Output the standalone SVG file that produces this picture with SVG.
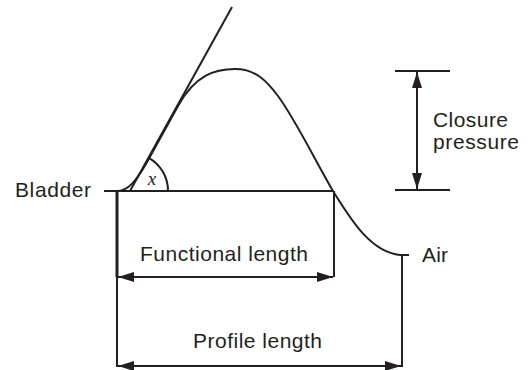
<svg xmlns="http://www.w3.org/2000/svg" width="528" height="370" viewBox="0 0 528 370">
<defs>
<style>
.ln{stroke:#231f20;stroke-width:2;fill:none}
.t{font-family:"Liberation Sans",Arial,sans-serif;font-size:21px;fill:#231f20}
</style>
<marker id="ah" viewBox="0 0 16 10" refX="16" refY="5" markerWidth="16" markerHeight="10" markerUnits="userSpaceOnUse" orient="auto-start-reverse">
<path d="M0,0 L16,5 L0,10 Z" fill="#231f20"/>
</marker>
</defs>
<rect width="528" height="370" fill="#fff"/>
<g id="curve">
<path class="ln" d="M117,191 C128,191 136,181 146,164 L178,106 C195,75 215,69 235,69 C255,69 266,80 278,96 C295,119 315,160 333,191 C350,218 370,252 400,255"/>
<path class="ln" d="M130,191 L232,7"/>
<path class="ln" d="M168,191 A38,38 0 0 0 148.3,157.6"/>
<text x="152" y="185" font-family="'Liberation Serif',serif" font-style="italic" font-size="19" fill="#231f20" text-anchor="middle">x</text>
</g>
<g id="bladder">
<text class="t" x="15" y="197" textLength="76">Bladder</text>
</g>
<g id="air">
<text class="t" x="422" y="262" textLength="26">Air</text>
</g>
<g id="closure">
<text class="t" x="433" y="126.5" textLength="75">Closure</text>
<text class="t" x="433" y="148.5" textLength="86">pressure</text>
</g>
<g id="functional">
<text class="t" x="140" y="260.5" textLength="168">Functional length</text>
</g>
<g id="profile">
<text class="t" x="193" y="348" textLength="129">Profile length</text>
</g>
<g id="connectors">
<path class="ln" d="M104,191 H333"/>
<path class="ln" d="M117,191 V277" style="stroke-width:3"/>
<path class="ln" d="M117,277 V367"/>
<path class="ln" d="M334,191 V277"/>
<path class="ln" d="M400,255 H409 M402,255 V367"/>
<path class="ln" d="M118,277 H333" marker-start="url(#ah)" marker-end="url(#ah)"/>
<path class="ln" d="M118,366 H401" marker-start="url(#ah)" marker-end="url(#ah)"/>
<path class="ln" d="M395,71 H450 M395,190 H450"/>
<path class="ln" d="M417,72 V189" marker-start="url(#ah)" marker-end="url(#ah)"/>
</g>
</svg>
